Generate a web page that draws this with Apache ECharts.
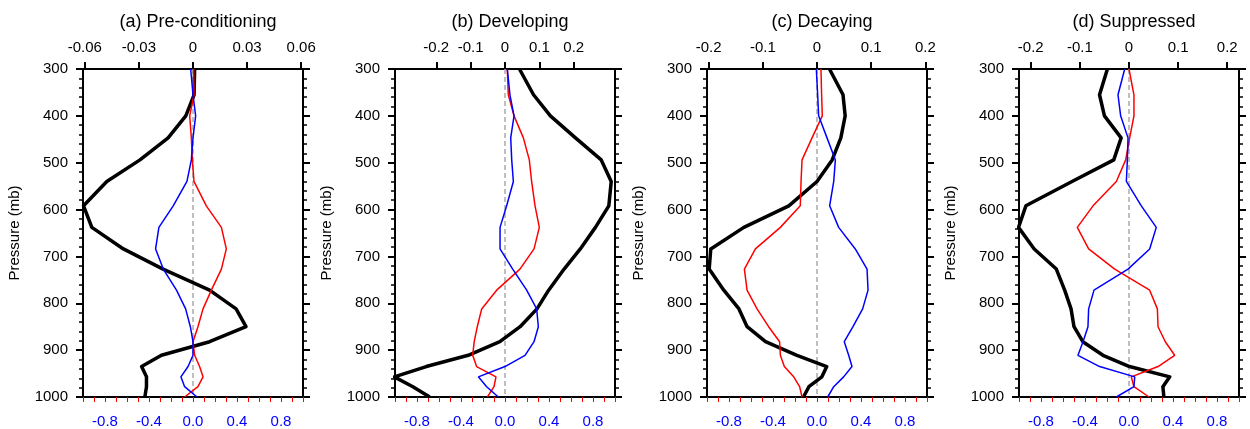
<!DOCTYPE html>
<html>
<head>
<meta charset="utf-8">
<script src="https://cdn.jsdelivr.net/npm/echarts@6/dist/echarts.min.js"></script>
<style>
	html, body { margin: 0; padding: 0; background: #fff; }
	#profile-chart { width: 1250px; height: 429px; }
</style>
</head>
<body>
<div id="profile-chart"></div>
<script>
// 气压层 (mb)
var levels = [300, 355, 400, 447, 494, 540, 592, 638, 684, 727, 772, 812, 850, 882, 911, 935, 957, 978, 1000];

// (a) Pre-conditioning
var aBlack = [0.0009, 0.0006, -0.004, -0.0138, -0.0294, -0.0478, -0.0607, -0.0561, -0.0386, -0.0166, 0.0092, 0.0239, 0.0294, 0.0092, -0.0175, -0.0285, -0.0258, -0.0258, -0.0267];
var aRed = [0.006, 0.009, -0.03, -0.015, -0.006, 0.009, 0.121, 0.258, 0.303, 0.258, 0.167, 0.091, 0.045, 0.0, 0.015, 0.06, 0.091, 0.045, -0.076];
var aBlue = [-0.021, 0.0, 0.024, 0.0, -0.015, -0.055, -0.18, -0.31, -0.34, -0.27, -0.15, -0.067, -0.024, 0.0, 0.0, -0.045, -0.11, -0.076, 0.036];

// (b) Developing
var bBlack = [0.042, 0.083, 0.132, 0.205, 0.28, 0.309, 0.302, 0.263, 0.219, 0.172, 0.127, 0.093, 0.044, -0.015, -0.107, -0.229, -0.322, -0.268, -0.219];
var bRed = [0.021, 0.03, 0.082, 0.167, 0.221, 0.242, 0.273, 0.312, 0.264, 0.136, -0.076, -0.212, -0.252, -0.28, -0.294, -0.258, -0.082, -0.1, -0.16];
var bBlue = [0.021, 0.045, 0.082, 0.052, 0.061, 0.076, 0.015, -0.045, -0.045, 0.07, 0.197, 0.288, 0.303, 0.264, 0.182, 0.0, -0.242, -0.167, -0.061];

// (c) Decaying
var cBlack = [0.023, 0.048, 0.052, 0.044, 0.028, 0.0, -0.052, -0.135, -0.196, -0.199, -0.172, -0.144, -0.129, -0.095, -0.037, 0.018, 0.009, -0.015, -0.025];
var cRed = [0.036, 0.042, 0.048, -0.045, -0.136, -0.145, -0.152, -0.333, -0.56, -0.66, -0.636, -0.545, -0.44, -0.34, -0.333, -0.297, -0.212, -0.158, -0.136];
var cBlue = [-0.006, 0.006, 0.015, 0.091, 0.167, 0.152, 0.115, 0.197, 0.348, 0.455, 0.464, 0.415, 0.327, 0.248, 0.288, 0.318, 0.242, 0.152, 0.097];

// (d) Suppressed
var dBlack = [-0.044, -0.06, -0.05, -0.016, -0.031, -0.116, -0.21, -0.225, -0.193, -0.148, -0.131, -0.118, -0.112, -0.094, -0.053, 0.001, 0.083, 0.069, 0.071];
var dRed = [0.0, 0.045, 0.045, 0.006, -0.03, -0.115, -0.327, -0.47, -0.367, -0.13, 0.188, 0.258, 0.264, 0.33, 0.415, 0.264, 0.021, 0.045, 0.182];
var dBlue = [-0.039, -0.1, -0.076, -0.009, -0.015, -0.024, 0.112, 0.248, 0.188, -0.009, -0.318, -0.367, -0.373, -0.418, -0.464, -0.267, 0.052, 0.045, -0.115];

var titles = ['(a) Pre-conditioning', '(b) Developing', '(c) Decaying', '(d) Suppressed'];

// 上轴 (黑线) 刻度
var topTicksA = [-0.06, -0.03, 0, 0.03, 0.06];
var topTicksB = [-0.2, -0.1, 0, 0.1, 0.2];
var topRange = [0.061, 0.32, 0.203, 0.224];
var topTicks = [topTicksA, topTicksB, topTicksB, topTicksB];

// 下轴 (红蓝线) 刻度
var bottomLabels = [-0.8, -0.4, 0, 0.4, 0.8];
var bottomTicks = [-1, -0.9, -0.8, -0.7, -0.6, -0.5, -0.4, -0.3, -0.2, -0.1, 0, 0.1, 0.2, 0.3, 0.4, 0.5, 0.6, 0.7, 0.8, 0.9, 1];

var panels = [
	[aBlack, aRed, aBlue],
	[bBlack, bRed, bBlue],
	[cBlack, cRed, cBlue],
	[dBlack, dRed, dBlue]
];
var gridLeft = [83, 395, 707, 1019];

var FONT = 'Liberation Sans';

function pairs(vals) {
	var out = [];
	for (var i = 0; i < vals.length; i++) {
		out.push([vals[i], levels[i]]);
	}
	return out;
}

function buildChart() {
	var grid = [], xAxis = [], yAxis = [], series = [], title = [];
	for (var p = 0; p < 4; p++) {
		grid.push({ left: gridLeft[p], top: 69, width: 220, height: 330 });
		title.push({
			text: titles[p],
			left: gridLeft[p] + 110,
			top: 8,
			textAlign: 'center',
			textStyle: { fontFamily: FONT, fontSize: 18, fontWeight: 'normal', color: '#000' }
		});
		// 下轴
		xAxis.push({
			gridIndex: p,
			type: 'value',
			position: 'bottom',
			min: -1,
			max: 1,
			splitLine: { show: false },
			axisLine: { show: true, onZero: false, lineStyle: { color: '#000', width: 2 } },
			axisTick: { show: true, length: 5, customValues: bottomTicks, lineStyle: { color: '#ff0000', width: 1 } },
			axisLabel: {
				customValues: bottomLabels,
				margin: 17,
				color: '#0000ff',
				fontFamily: FONT,
				fontSize: 15,
				formatter: function (v) { return v.toFixed(1); }
			}
		});
		// 上轴
		xAxis.push({
			gridIndex: p,
			type: 'value',
			position: 'top',
			min: -topRange[p],
			max: topRange[p],
			splitLine: { show: false },
			axisLine: { show: true, onZero: false, lineStyle: { color: '#000', width: 2 } },
			axisTick: { show: true, length: 7, customValues: topTicks[p], lineStyle: { color: '#000', width: 2 } },
			axisLabel: {
				customValues: topTicks[p],
				margin: 14,
				color: '#000',
				fontFamily: FONT,
				fontSize: 15,
				formatter: function (v) { return parseFloat(v.toFixed(3)) + ''; }
			}
		});
		yAxis.push({
			gridIndex: p,
			type: 'value',
			inverse: true,
			min: 300,
			max: 1000,
			interval: 100,
			name: 'Pressure (mb)',
			nameLocation: 'middle',
			nameRotate: 90,
			nameGap: 61,
			nameTextStyle: { fontFamily: FONT, fontSize: 15, color: '#000' },
			splitLine: { show: false },
			axisLine: { show: true, onZero: false, lineStyle: { color: '#000', width: 2 } },
			axisTick: { show: true, length: 7, lineStyle: { color: '#000', width: 2 } },
			minorTick: { show: true, splitNumber: 5, length: 4, lineStyle: { color: '#000', width: 1.5 } },
			axisLabel: {
				margin: 15,
				color: '#000',
				fontFamily: FONT,
				fontSize: 15,
				formatter: function (v) { return v + ''; }
			}
		});
		yAxis.push({
			gridIndex: p,
			type: 'value',
			inverse: true,
			position: 'right',
			min: 300,
			max: 1000,
			interval: 100,
			splitLine: { show: false },
			axisLine: { show: true, onZero: false, lineStyle: { color: '#000', width: 2 } },
			axisTick: { show: true, length: 7, lineStyle: { color: '#000', width: 2 } },
			minorTick: { show: true, splitNumber: 5, length: 4, lineStyle: { color: '#000', width: 1.5 } },
			axisLabel: { show: false }
		});

		var d = panels[p];
		// 黑线 (上轴)
		series.push({
			type: 'line',
			xAxisIndex: 2 * p + 1,
			yAxisIndex: 2 * p,
			data: pairs(d[0]),
			symbol: 'none',
			z: 3,
			lineStyle: { color: '#000', width: 3.5, join: 'round' }
		});
		// 红线
		series.push({
			type: 'line',
			xAxisIndex: 2 * p,
			yAxisIndex: 2 * p,
			data: pairs(d[1]),
			symbol: 'none',
			z: 4,
			lineStyle: { color: '#ff0000', width: 1.5 },
			markLine: {
				silent: true,
				symbol: 'none',
				z: 1,
				label: { show: false },
				lineStyle: { color: '#aaaaaa', type: [5, 3], width: 1.5 },
				data: [{ xAxis: 0 }]
			}
		});
		// 蓝线
		series.push({
			type: 'line',
			xAxisIndex: 2 * p,
			yAxisIndex: 2 * p,
			data: pairs(d[2]),
			symbol: 'none',
			z: 5,
			lineStyle: { color: '#0000ff', width: 1.5 }
		});
	}

	var option = {
		animation: false,
		backgroundColor: '#fff',
		title: title,
		grid: grid,
		xAxis: xAxis,
		yAxis: yAxis,
		series: series
	};
	var chart = echarts.init(document.getElementById('profile-chart'));
	chart.setOption(option);
}

buildChart();
</script>
</body>
</html>
